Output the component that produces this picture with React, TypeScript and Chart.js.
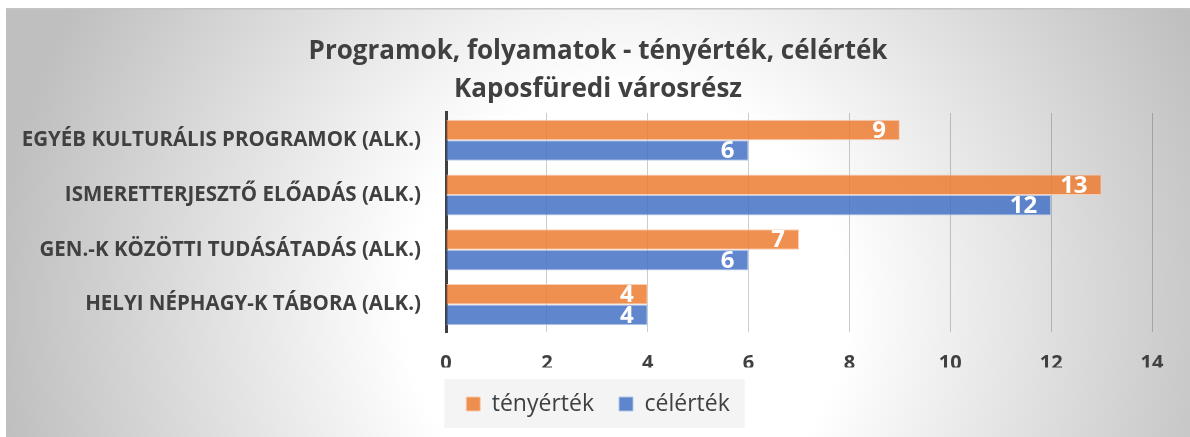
import React, { useEffect, useRef } from "react";
import { Chart, registerables } from "chart.js";

Chart.register(...registerables);

const titleLines = ["Programok, folyamatok - tényérték, célérték", "Kaposfüredi városrész"];
const categories = [
  "EGYÉB KULTURÁLIS PROGRAMOK (ALK.)",
  "ISMERETTERJESZTŐ ELŐADÁS (ALK.)",
  "GEN.-K KÖZÖTTI TUDÁSÁTADÁS (ALK.)",
  "HELYI NÉPHAGY-K TÁBORA (ALK.)",
];
const seriesNames = ["tényérték", "célérték"];
const actualValues = [9, 13, 7, 4];
const targetValues = [6, 12, 6, 4];
const xMin = 0;
const xMax = 14;
const xStep = 2;

const FONT = "'Open Sans', 'Liberation Sans', sans-serif";
const TEXT = "#404040";

const bgPlugin = {
  id: "bgPlugin",
  beforeDraw(chart: any) {
    const { ctx, width, height } = chart;
    ctx.save();
    const g = ctx.createRadialGradient(620, 300, 0, 620, 300, 630);
    g.addColorStop(0, "#ffffff");
    g.addColorStop(0.35, "#ffffff");
    g.addColorStop(1, "#bfbfbf");
    ctx.fillStyle = g;
    ctx.fillRect(0, 0, width, height);
    ctx.fillStyle = "#c4c4c4";
    ctx.fillRect(0, 0, width, 1.5);
    const lg = chart.legend;
    if (lg && lg.legendHitBoxes && lg.legendHitBoxes.length) {
      const hb = lg.legendHitBoxes;
      let l = Infinity, r = -Infinity, cy = 0;
      hb.forEach((b: any) => {
        l = Math.min(l, b.left);
        r = Math.max(r, b.left + b.width);
        cy += b.top + b.height / 2;
      });
      cy /= hb.length;
      ctx.fillStyle = "rgba(242,242,242,0.85)";
      ctx.fillRect(l - 22, cy - 25, r - l + 37, 49);
    }
    ctx.restore();
  },
};

const labelPlugin = {
  id: "labelPlugin",
  afterDatasetsDraw(chart: any) {
    const { ctx } = chart;
    ctx.save();
    ctx.font = `bold 24px ${FONT}`;
    ctx.fillStyle = "#ffffff";
    ctx.textAlign = "right";
    ctx.textBaseline = "middle";
    chart.data.datasets.forEach((ds: any, di: number) => {
      const meta = chart.getDatasetMeta(di);
      meta.data.forEach((bar: any, i: number) => {
        ctx.fillText(String(ds.data[i]), bar.x - 14, bar.y + 1);
      });
    });
    ctx.restore();
  },
};

export default function App() {
  const ref = useRef<HTMLCanvasElement | null>(null);
  useEffect(() => {
    if (!ref.current) return;
    const chart = new Chart(ref.current, {
      type: "bar",
      data: {
        labels: categories,
        datasets: [
          {
            label: seriesNames[0],
            data: actualValues,
            backgroundColor: "rgba(237,125,49,0.85)",
            borderColor: "rgba(248,203,173,0.9)",
            borderWidth: 1,
          },
          {
            label: seriesNames[1],
            data: targetValues,
            backgroundColor: "rgba(68,114,196,0.85)",
            borderColor: "rgba(180,199,231,0.9)",
            borderWidth: 1,
          },
        ],
      },
      options: {
        indexAxis: "y",
        responsive: false,
        animation: false,
        layout: { padding: { left: 0, right: 0, top: 0, bottom: 11.5 } },
        datasets: { bar: { categoryPercentage: 0.75, barPercentage: 1 } },
        scales: {
          x: {
            min: xMin,
            max: xMax,
            ticks: {
              stepSize: xStep,
              color: TEXT,
              font: { family: FONT, size: 20, weight: "bold" },
              padding: 19,
            },
            grid: { color: "rgba(0,0,0,0.2)", drawTicks: false, lineWidth: 1 },
            border: { display: false },
            afterFit(scale: any) {
              scale.height = 35.5;
            },
          },
          y: {
            ticks: {
              color: TEXT,
              font: { family: FONT, size: 20.5, weight: "bold" },
              padding: 25,
            },
            grid: { display: false, drawTicks: false },
            border: { display: true, color: "#404040", width: 3 },
            afterFit(scale: any) {
              scale.width = 440;
            },
          },
          yRightSpace: {
            type: "linear",
            position: "right",
            display: true,
            ticks: { display: false },
            grid: { display: false, drawTicks: false },
            border: { display: false },
            afterFit(scale: any) {
              scale.width = 38;
            },
          },
        },
        plugins: {
          title: {
            display: true,
            text: titleLines,
            color: TEXT,
            font: { family: FONT, size: 26, weight: "bold", lineHeight: 1.46 },
            padding: { top: 25, bottom: 4 },
          },
          legend: {
            display: true,
            position: "bottom",
            labels: {
              color: TEXT,
              font: { family: FONT, size: 23 },
              boxWidth: 14,
              boxHeight: 14,
              padding: 25,
            },
          },
          tooltip: { enabled: false },
        },
      },
      plugins: [bgPlugin, labelPlugin],
    } as any);
    return () => chart.destroy();
  }, []);
  return (
    <div style={{ position: "absolute", left: 6, top: 8, width: 1184, height: 429 }}>
      <canvas ref={ref} width={1184} height={429} />
    </div>
  );
}
